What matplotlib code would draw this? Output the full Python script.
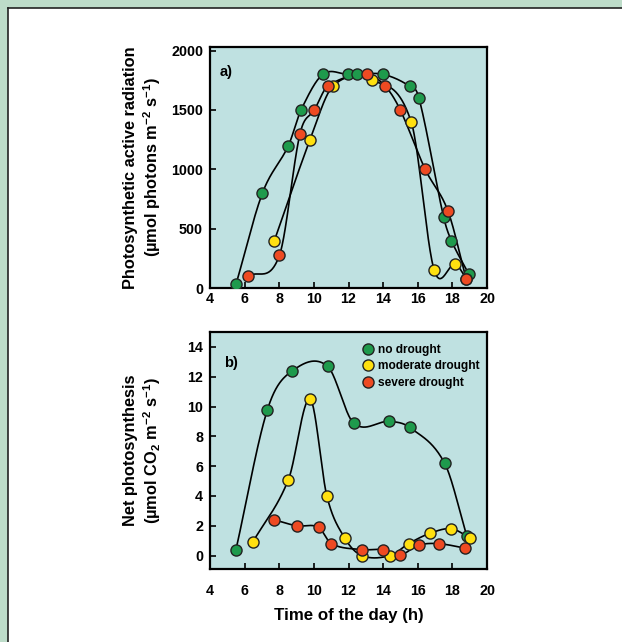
import matplotlib
matplotlib.use('Agg')
import matplotlib.pyplot as plt
import numpy as np
from matplotlib.patches import Rectangle
from matplotlib.lines import Line2D

plt.rcParams['font.family'] = ['Liberation Sans', 'DejaVu Sans']
plt.rcParams['font.weight'] = 'bold'
plt.rcParams['mathtext.fontset'] = 'custom'
plt.rcParams['mathtext.rm'] = 'Liberation Sans:bold'
plt.rcParams['mathtext.bf'] = 'Liberation Sans:bold'
plt.rcParams['mathtext.default'] = 'bf'

# panel a) photosynthetic active radiation
par_no_x = [5.5, 7.03, 8.53, 9.26, 10.52, 11.96, 12.48, 13.99, 15.53, 16.07, 17.49, 17.94, 18.94]
par_no_y = [30, 800, 1200, 1500, 1800, 1800, 1800, 1800, 1700, 1600, 600, 400, 120]
par_mod_x = [7.72, 9.78, 11.1, 13.35, 15.62, 16.95, 18.17, 18.8]
par_mod_y = [400, 1250, 1700, 1750, 1400, 150, 200, 80]
par_sev_x = [6.22, 8.01, 9.2, 10.03, 10.8, 13.06, 14.12, 14.99, 16.43, 17.74, 18.8]
par_sev_y = [100, 275, 1300, 1500, 1700, 1800, 1700, 1500, 1000, 650, 75]

# panel b) net photosynthesis
pn_no_x = [5.5, 7.32, 8.76, 10.79, 12.29, 14.35, 15.53, 17.55, 18.84]
pn_no_y = [0.4, 9.8, 12.4, 12.7, 8.9, 9.0, 8.6, 6.2, 1.3]
pn_mod_x = [6.47, 8.53, 9.78, 10.75, 11.77, 12.77, 14.41, 15.47, 16.72, 17.94, 19.0]
pn_mod_y = [0.9, 5.1, 10.5, 4.0, 1.2, 0.0, 0.0, 0.8, 1.5, 1.8, 1.2]
pn_sev_x = [7.72, 9.01, 10.27, 11.0, 12.77, 13.99, 14.99, 16.05, 17.2, 18.75]
pn_sev_y = [2.4, 2.0, 1.9, 0.8, 0.4, 0.4, 0.05, 0.7, 0.8, 0.5]

labels = ['no drought', 'moderate drought', 'severe drought']
colors = ['#1e9a4c', '#ffe010', '#ee4a22']


def smooth(x, y, n=40):
    # cubic Hermite curve with finite-difference slopes (Catmull-Rom like)
    x = np.asarray(x, float)
    y = np.asarray(y, float)
    d = np.empty_like(y)
    d[1:-1] = (y[2:] - y[:-2]) / (x[2:] - x[:-2])
    d[0] = (y[1] - y[0]) / (x[1] - x[0])
    d[-1] = (y[-1] - y[-2]) / (x[-1] - x[-2])
    xs_all, ys_all = [], []
    for i in range(len(x) - 1):
        h = x[i + 1] - x[i]
        t = np.linspace(0, 1, n)
        h00 = 2 * t**3 - 3 * t**2 + 1
        h10 = t**3 - 2 * t**2 + t
        h01 = -2 * t**3 + 3 * t**2
        h11 = t**3 - t**2
        xs_all.append(x[i] + t * h)
        ys_all.append(h00 * y[i] + h10 * h * d[i] + h01 * y[i + 1] + h11 * h * d[i + 1])
    return np.concatenate(xs_all), np.concatenate(ys_all)


fig = plt.figure(figsize=(6.22, 6.42), dpi=100, facecolor='#bddcc9')
fig.patches.append(Rectangle((8 / 622, 0), 1, 1 - 8 / 642, transform=fig.transFigure,
                             facecolor='white', edgecolor='none', zorder=-5))
fig.lines.append(Line2D([8 / 622, 8 / 622], [0, 1 - 8 / 642], transform=fig.transFigure,
                        color='#222222', lw=1.2, zorder=-4))
fig.lines.append(Line2D([8 / 622, 1], [1 - 8 / 642, 1 - 8 / 642], transform=fig.transFigure,
                        color='#222222', lw=1.2, zorder=-4))

ax1 = fig.add_axes([210 / 622, 1 - 288 / 642, 277 / 622, 241 / 642])
ax2 = fig.add_axes([210 / 622, 1 - 569 / 642, 277 / 622, 237 / 642])

series_a = [(par_no_x, par_no_y), (par_mod_x, par_mod_y), (par_sev_x, par_sev_y)]
series_b = [(pn_no_x, pn_no_y), (pn_mod_x, pn_mod_y), (pn_sev_x, pn_sev_y)]

for ax, series in [(ax1, series_a), (ax2, series_b)]:
    ax.set_facecolor('#bfe1e1')
    for (x, y), c, lab in zip(series, colors, labels):
        xs, ys = smooth(x, y)
        ax.plot(xs, ys, color='black', lw=1.2, zorder=2)
        ax.plot(x, y, 'o', ms=8, mfc=c, mec='#222222', mew=1.0, zorder=3, label=lab)
    ax.set_xlim(4, 20)
    ax.set_xticks(np.arange(4, 21, 2))
    ax.tick_params(direction='in', length=4, width=1.2, labelsize=10.3)
    for s in ax.spines.values():
        s.set_linewidth(1.6)

ax1.tick_params(axis='x', pad=3)
ax1.tick_params(axis='y', pad=5)
ax2.tick_params(axis='x', pad=11)
ax2.tick_params(axis='y', pad=5)

ax1.set_ylim(0, 2030)
ax1.set_yticks([0, 500, 1000, 1500, 2000])
ax2.set_ylim(-0.9, 15)
ax2.set_yticks(np.arange(0, 15, 2))

ax1.set_ylabel('Photosynthetic active radiation\n(µmol photons m$^{-2}$ s$^{-1}$)',
               fontsize=11.8, fontweight='bold', linespacing=1.25)
ax2.set_ylabel('Net photosynthesis\n(µmol CO$_2$ m$^{-2}$ s$^{-1}$)',
               fontsize=11.8, fontweight='bold', linespacing=1.25)
ax1.yaxis.set_label_coords(-0.168, 0.5)
ax2.yaxis.set_label_coords(-0.168, 0.5)
ax2.set_xlabel('Time of the day (h)', fontsize=12.2, fontweight='bold', labelpad=7)

ax1.text(0.035, 0.895, 'a)', transform=ax1.transAxes, fontsize=10.5, fontweight='bold',
         va='center', ha='left')
ax2.text(0.05, 0.868, 'b)', transform=ax2.transAxes, fontsize=10.5, fontweight='bold',
         va='center', ha='left')

ax2.legend(loc='upper left', bbox_to_anchor=(0.53, 0.975), frameon=False,
           handlelength=0.8, handletextpad=0.5, labelspacing=0.38, borderpad=0,
           prop={'weight': 'bold', 'size': 8.6})

fig.savefig('out.png', dpi=100, facecolor=fig.get_facecolor())
